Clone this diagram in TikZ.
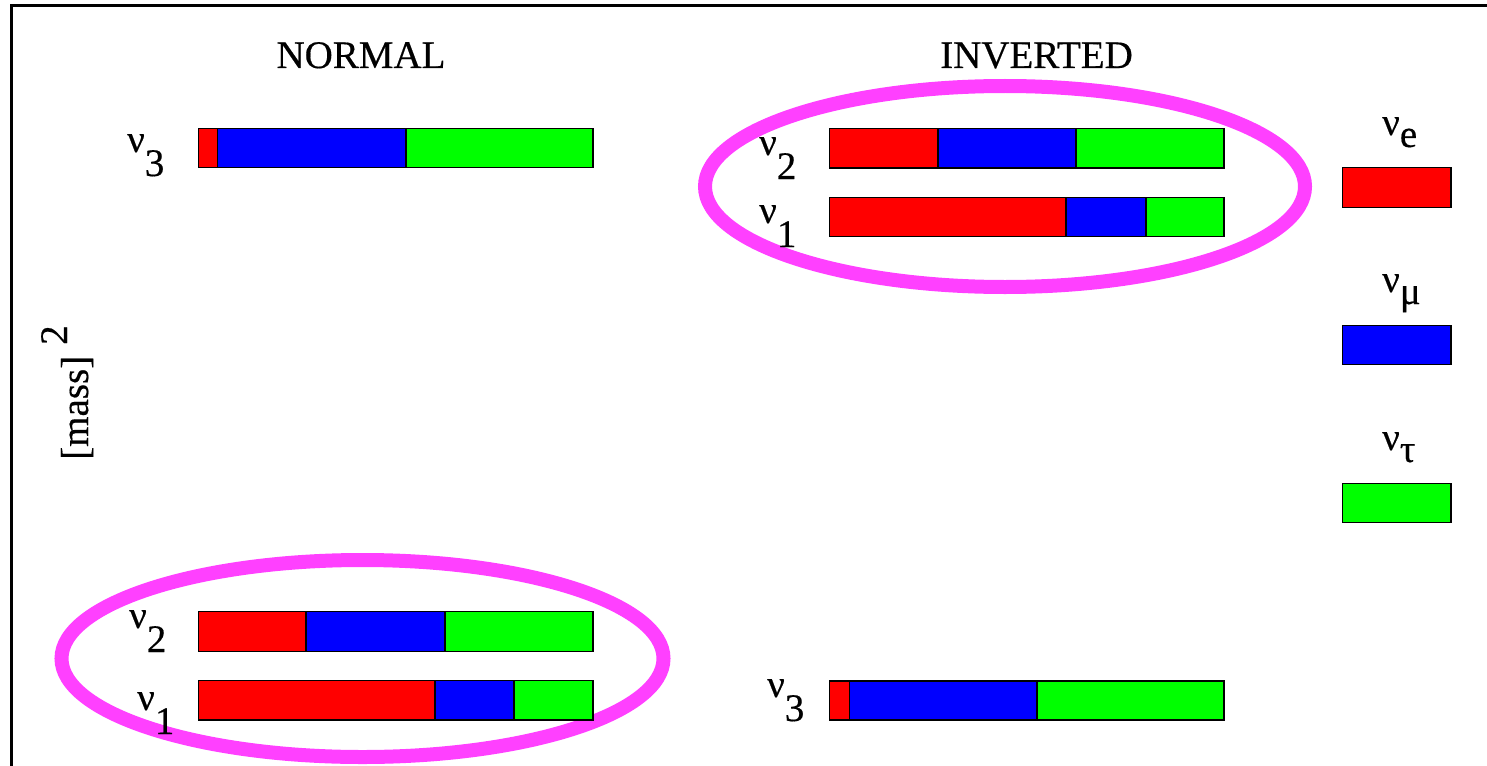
\documentclass[tikz,border=0pt]{standalone}
\usepackage{fontspec}
\setmainfont{Liberation Serif}
\newfontfamily\labelfont[FakeBold=0.4]{Liberation Serif}
\definecolor{ringpink}{RGB}{255,64,255}
\definecolor{nured}{RGB}{255,0,0}
\definecolor{nublue}{RGB}{0,0,255}
\definecolor{nugreen}{RGB}{0,255,0}
% mass eigenstate label: nu with a lowered full-size index
\newcommand{\massnu}[1]{ν\raisebox{-24pt}{#1}}
% flavour label: nu with a slightly lowered index
\newcommand{\flavnu}[1]{ν\raisebox{-12pt}{#1}}
% three-part bar: x0 x1 x2 x3 ytop ybottom
\newcommand{\mixbar}[6]{%
  \filldraw[seg,fill=nured]   (#1,#5) rectangle (#2,#6);
  \filldraw[seg,fill=nublue]  (#2,#5) rectangle (#3,#6);
  \filldraw[seg,fill=nugreen] (#3,#5) rectangle (#4,#6);
}
\begin{document}
\begin{tikzpicture}[x=1pt,y=-1pt,
  seg/.style={draw=black,line width=1.2pt},
  lbl/.style={inner sep=0pt,font=\labelfont\fontsize{39}{46}\selectfont},
  ring/.style={draw=ringpink,line width=14pt}]
\useasboundingbox (0,0) rectangle (1487,765);
\clip (0,0) rectangle (1487,765);

% frame
\draw[line width=2.5pt] (11.3,5.3) rectangle (1600,900);

% grouping rings
\draw[ring] (1005,186.5) ellipse [x radius=300, y radius=100.5];
\draw[ring] (362.5,658.5) ellipse [x radius=301, y radius=98.5];

% normal ordering
\mixbar{198.3}{217.5}{406}{593}{128.3}{167.7}
\mixbar{198.3}{306}{445}{593}{611.7}{651.7}
\mixbar{198.3}{435}{514}{593}{680.7}{720}

% inverted ordering
\mixbar{829.3}{938}{1076}{1224}{128.3}{168}
\mixbar{829.3}{1066}{1146}{1224}{197.3}{236.7}
\mixbar{829.3}{849.3}{1037}{1224}{681}{720}

% legend
\filldraw[seg,fill=nured]   (1342.3,167.7) rectangle (1451,207.3);
\filldraw[seg,fill=nublue]  (1342.3,325.3) rectangle (1451,364.7);
\filldraw[seg,fill=nugreen] (1342.3,483.3) rectangle (1451,522.7);
\node[lbl,anchor=base west] (fe)  at (1382,135) {\flavnu{e}};
\node[lbl,anchor=base west] (fmu) at (1382,292) {\flavnu{μ}};
\node[lbl,anchor=base west] (fta) at (1382,450) {\flavnu{τ}};

% titles
\node[lbl,anchor=base] (normal)   at (361,68)    {NORMAL};
\node[lbl,anchor=base] (inverted) at (1036.5,68) {INVERTED};

% axis label
\node[lbl,rotate=90,anchor=base west] (mass) at (88,460)
  {[mass]\hspace{11pt}\raisebox{21pt}{2}};

% mass eigenstate labels
\node[lbl,anchor=base west] (n3) at (127,152) {\massnu{3}};
\node[lbl,anchor=base west] (n2) at (129,628) {\massnu{2}};
\node[lbl,anchor=base west] (n1) at (137,710) {\massnu{1}};
\node[lbl,anchor=base west] (i2) at (759,155) {\massnu{2}};
\node[lbl,anchor=base west] (i1) at (759,223) {\massnu{1}};
\node[lbl,anchor=base west] (i3) at (767,697) {\massnu{3}};
\end{tikzpicture}
\end{document}
